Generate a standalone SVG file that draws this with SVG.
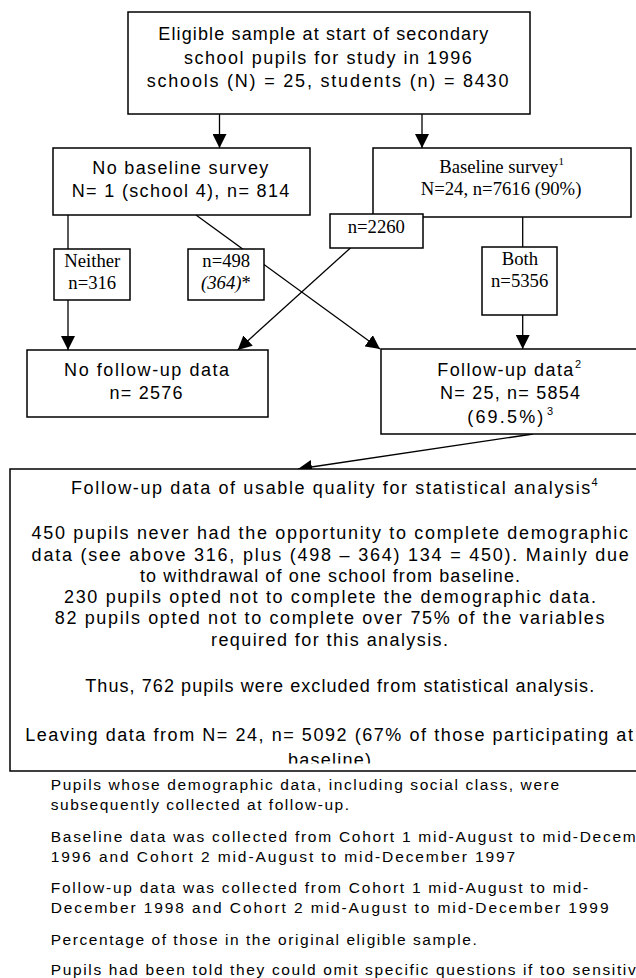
<svg xmlns="http://www.w3.org/2000/svg" width="636" height="978" viewBox="0 0 636 978">
<style>
.box{fill:#fff;stroke:#000;stroke-width:1.5}
.c{fill:none;stroke:#000;stroke-width:1.3}
.s{font-family:"Liberation Sans",Arial,sans-serif;font-size:18px;fill:#000}
.t{font-family:"Liberation Serif","Times New Roman",serif;font-size:18.7px;fill:#000}
.f{font-family:"Liberation Sans",Arial,sans-serif;font-size:15.5px;fill:#000}
.sup{font-family:"Liberation Sans",Arial,sans-serif;font-size:11px;fill:#000}
.supt{font-family:"Liberation Serif","Times New Roman",serif;font-size:11px;fill:#000}
</style>
<defs>
<marker id="ah" viewBox="0 0 14 14" refX="14" refY="7" markerWidth="14" markerHeight="14" orient="auto" markerUnits="userSpaceOnUse"><path d="M0,0 L14,7 L0,14 z" fill="#000"/></marker>
<clipPath id="bclip"><rect x="10" y="469" width="626" height="294.5"/></clipPath>
</defs>
<rect width="636" height="978" fill="#fff"/>

<g id="connectors">
<path class="c" d="M219.5,114 V148" marker-end="url(#ah)"/>
<path class="c" d="M422,114 V148" marker-end="url(#ah)"/>
<path class="c" d="M68,215 V249"/>
<path class="c" d="M68,300 V350" marker-end="url(#ah)"/>
<path class="c" d="M196,215 L380,349" marker-end="url(#ah)"/>
<path class="c" d="M350.7,247.7 L237.7,350" marker-end="url(#ah)"/>
<path class="c" d="M522.7,217 V247"/>
<path class="c" d="M522.7,315 V349" marker-end="url(#ah)"/>
<path class="c" d="M533,434 L298,469" marker-end="url(#ah)"/>
</g>

<g id="eligible">
<rect class="box" x="128" y="12" width="402" height="102"/>
<text class="s" x="158.3" y="40" textLength="330">Eligible sample at start of secondary</text>
<text class="s" x="184" y="63.5" textLength="287.7">school pupils for study in 1996</text>
<text class="s" x="146.7" y="87" textLength="361.7">schools (N) = 25, students (n) = 8430</text>
</g>

<g id="no-baseline">
<rect class="box" x="53" y="148" width="257" height="67"/>
<text class="s" x="92.3" y="174" textLength="176">No baseline survey</text>
<text class="s" x="71.7" y="197" textLength="217.6">N= 1 (school 4), n= 814</text>
</g>

<g id="baseline">
<rect class="box" x="373" y="148" width="258" height="69"/>
<text class="t" x="439.3" y="173.3">Baseline survey</text>
<text class="supt" x="558.5" y="165">1</text>
<text class="t" x="420.7" y="195">N=24, n=7616 (90%)</text>
</g>

<g id="n2260">
<rect class="box" x="330" y="214" width="93" height="34"/>
<text class="t" x="347.7" y="233">n=2260</text>
</g>

<g id="neither">
<rect class="box" x="54" y="249" width="76" height="51"/>
<text class="t" x="64.3" y="266.7">Neither</text>
<text class="t" x="68.3" y="289.3">n=316</text>
</g>

<g id="n498">
<rect class="box" x="188" y="249" width="76" height="51"/>
<text class="t" x="202.3" y="266.7">n=498</text>
<text class="t" x="201" y="289.3"><tspan font-style="italic">(364)</tspan>*</text>
</g>

<g id="both">
<rect class="box" x="482" y="247" width="75" height="68"/>
<text class="t" x="501.7" y="265">Both</text>
<text class="t" x="491" y="287.3">n=5356</text>
</g>

<g id="no-follow-up">
<rect class="box" x="27" y="350" width="241" height="67"/>
<text class="s" x="64.1" y="376" textLength="165">No follow-up data</text>
<text class="s" x="109.5" y="399" textLength="73">n= 2576</text>
</g>

<g id="follow-up">
<path class="box" d="M636,349 H381 V434 H636"/>
<text class="s" x="437.3" y="376" textLength="136">Follow-up data</text>
<text class="sup" x="575" y="368">2</text>
<text class="s" x="440" y="399.3" textLength="140">N= 25, n= 5854</text>
<text class="s" x="467.3" y="422.7" textLength="76">(69.5%)</text>
<text class="sup" x="547" y="415">3</text>
</g>

<g id="usable">
<path class="box" d="M636,469 H10 V771 H636"/>
<text class="s" x="71" y="494" textLength="519.3">Follow-up data of usable quality for statistical analysis</text>
<text class="sup" x="591.5" y="486">4</text>
<text class="s" x="31.6" y="539" textLength="596.4">450 pupils never had the opportunity to complete demographic</text>
<text class="s" x="31.6" y="560.5" textLength="597.2">data (see above 316, plus (498 – 364) 134 = 450). Mainly due</text>
<text class="s" x="140" y="582" textLength="380">to withdrawal of one school from baseline.</text>
<text class="s" x="64" y="603" textLength="532">230 pupils opted not to complete the demographic data.</text>
<text class="s" x="54.8" y="624" textLength="549.7">82 pupils opted not to complete over 75% of the variables</text>
<text class="s" x="211" y="645.5" textLength="237">required for this analysis.</text>
<text class="s" x="85.2" y="692" textLength="509">Thus, 762 pupils were excluded from statistical analysis.</text>
<text class="s" x="25.2" y="741" textLength="607.7">Leaving data from N= 24, n= 5092 (67% of those participating at</text>
<text class="s" x="288" y="766" textLength="83" clip-path="url(#bclip)">baseline)</text>
</g>

<g id="footnotes">
<text class="f" x="50.7" y="790" textLength="508.3">Pupils whose demographic data, including social class, were</text>
<text class="f" x="50.7" y="810" textLength="298.3">subsequently collected at follow-up.</text>
<text class="f" x="50.7" y="841.7" textLength="585">Baseline data was collected from Cohort 1 mid-August to mid-Decem</text>
<text class="f" x="50.7" y="861.7" textLength="464.5">1996 and Cohort 2 mid-August to mid-December 1997</text>
<text class="f" x="50.7" y="892.7" textLength="537.5">Follow-up data was collected from Cohort 1 mid-August to mid-</text>
<text class="f" x="50.7" y="913.3" textLength="557.8">December 1998 and Cohort 2 mid-August to mid-December 1999</text>
<text class="f" x="50.7" y="945" textLength="426">Percentage of those in the original eligible sample.</text>
<text class="f" x="50.7" y="975" textLength="585">Pupils had been told they could omit specific questions if too sensitiv</text>
</g>
</svg>
